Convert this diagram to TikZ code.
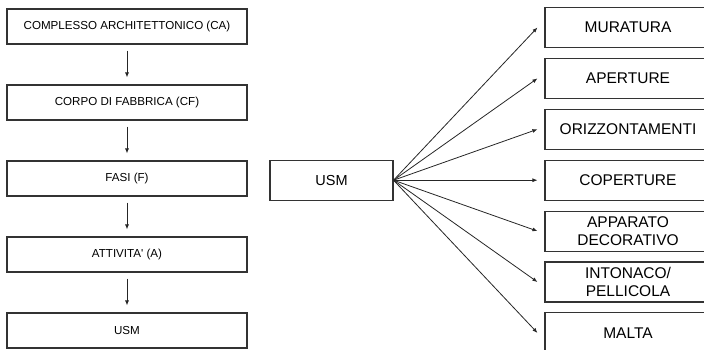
\documentclass[tikz,border=0pt]{standalone}
\usepackage{fontspec}
\setmainfont{Liberation Sans}
\usetikzlibrary{arrows.meta}
\begin{document}
\begin{tikzpicture}[x=1pt,y=-1pt,
  lbox/.style={draw=black!80, line width=1.1pt, minimum width=240pt, minimum height=35pt, inner sep=0pt, font=\fontsize{11.6}{13}\selectfont},
  mbox/.style={draw=black!80, line width=1.1pt, minimum width=123pt, minimum height=40pt, inner sep=0pt, font=\fontsize{14.5}{17}\selectfont},
  rbox/.style={draw=black!80, line width=1.1pt, minimum width=166pt, minimum height=40pt, inner sep=0pt, align=center, font=\fontsize{15.5}{18}\selectfont},
  arr/.style={draw=black!85, line width=0.8pt, -{Latex[length=5pt,width=4pt]}}]
\useasboundingbox (0,0) rectangle (704,350);
\clip (0,0) rectangle (704,350);
% left column
\node[lbox] (ca) at (127,26.5) {COMPLESSO ARCHITETTONICO (CA)};
\node[lbox] (cf) at (127,102.5) {CORPO DI FABBRICA (CF)};
\node[lbox] (f) at (127,178.5) {FASI (F)};
\node[lbox] (a) at (127,254.5) {ATTIVITA\textquotesingle\ (A)};
\node[lbox] (u) at (127,330.5) {USM};
\foreach \s/\t in {ca/cf,cf/f,f/a,a/u}
  \draw[arr, shorten <=6pt, shorten >=7pt] (\s) -- (\t);
% middle
\node[mbox] (usm) at (331.5,180.2) {USM};
% right column
\node[rbox] (r1) at (628,27.5) {MURATURA};
\node[rbox] (r2) at (628,78.4) {APERTURE};
\node[rbox] (r3) at (628,129.3) {ORIZZONTAMENTI};
\node[rbox] (r4) at (628,180.2) {COPERTURE};
\node[rbox] (r5) at (628,231.1) {APPARATO\\DECORATIVO};
\node[rbox] (r6) at (628,282) {INTONACO/\\PELLICOLA};
\node[rbox] (r7) at (628,332.9) {MALTA};
\foreach \t in {r1,r2,r3,r4,r5,r6,r7}
  \draw[arr] (usm.east) -- ([xshift=-7pt]\t.west);
\end{tikzpicture}
\end{document}
